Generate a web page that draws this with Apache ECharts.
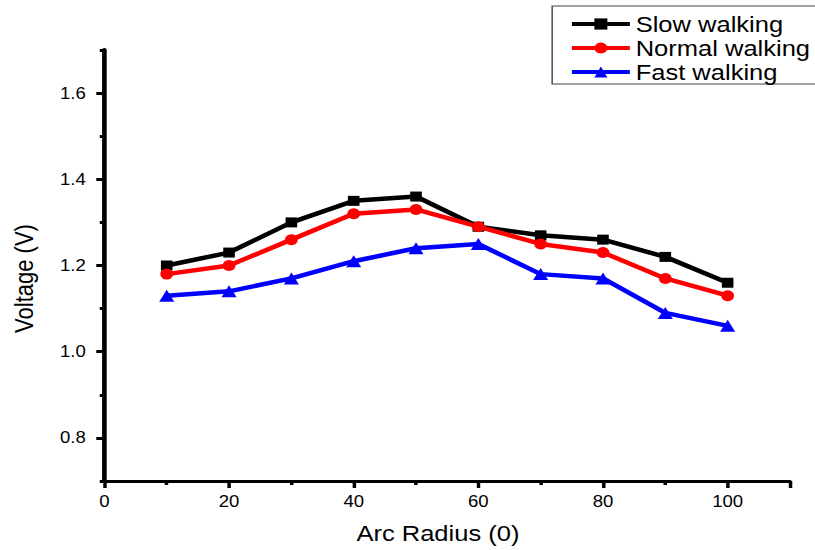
<!DOCTYPE html>
<html>
<head>
<meta charset="utf-8">
<script src="https://cdn.jsdelivr.net/npm/echarts@6/dist/echarts.min.js"></script>
<style>
  html, body { margin: 0; padding: 0; background: #fff; overflow: hidden; }
  /* the reference figure is stretched sideways, so the chart is drawn narrower and widened */
  #chart { width: 703px; height: 550px; transform: scaleX(1.16); transform-origin: 0 0; }
</style>
</head>
<body>
<div id="chart"></div>
<script>
var radius = [10, 20, 30, 40, 50, 60, 70, 80, 90, 100];
var slowWalking = [1.20, 1.23, 1.30, 1.35, 1.36, 1.29, 1.27, 1.26, 1.22, 1.16];
var normalWalking = [1.18, 1.20, 1.26, 1.32, 1.33, 1.29, 1.25, 1.23, 1.17, 1.13];
var fastWalking = [1.13, 1.14, 1.17, 1.21, 1.24, 1.25, 1.18, 1.17, 1.09, 1.06];
var yMajorTicks = [0.8, 1.0, 1.2, 1.4, 1.6];
var yMinorTicks = [0.7, 0.9, 1.1, 1.3, 1.5, 1.7];

function pairs(ys) {
    return radius.map(function (x, i) { return [x, ys[i]]; });
}

var chart = echarts.init(document.getElementById('chart'), null, { renderer: 'svg' });
var font = 'Liberation Sans, Arial, sans-serif';

var option = {
    backgroundColor: '#fff',
    animation: false,
    grid: { left: 90, right: 22, top: 50, bottom: 69 },
    legend: {
        left: 476,
        top: 6,
        orient: 'vertical',
        itemGap: 2,
        itemWidth: 50,
        itemHeight: 14,
        padding: [7, 6, 1, 15],
        borderColor: '#444',
        borderWidth: 1.2,
        borderRadius: 0,
        lineStyle: { width: 4 },
        textStyle: { fontFamily: font, fontSize: 22, lineHeight: 20, color: '#000' },
        data: ['Slow walking', 'Normal walking', 'Fast walking']
    },
    xAxis: {
        type: 'value',
        min: 0,
        max: 110,
        interval: 20,
        name: 'Arc Radius (0)',
        nameLocation: 'middle',
        nameGap: 41,
        nameTextStyle: { fontFamily: font, fontSize: 22, color: '#000', padding: [0, 16, 0, 0] },
        axisLine: { onZero: false, lineStyle: { color: '#000', width: 3 } },
        axisTick: { show: true, inside: false, length: 7, lineStyle: { width: 3, color: '#000' } },
        minorTick: { show: true, splitNumber: 2, length: 4, lineStyle: { width: 3, color: '#000' } },
        axisLabel: {
            fontFamily: font, fontSize: 16, color: '#000', margin: 12,
            formatter: function (v) { return v > 100 ? '' : v; }
        },
        splitLine: { show: false }
    },
    yAxis: [
        {
            type: 'value',
            min: 0.7,
            max: 1.7,
            interval: 0.1,
            name: 'Voltage (V)',
            nameLocation: 'middle',
            nameGap: 58,
            nameTextStyle: { fontFamily: font, fontSize: 22, color: '#000', padding: [0, 26, 0, 0] },
            axisLine: { show: true, lineStyle: { color: '#000', width: 4 } },
            axisTick: { show: true, inside: false, length: 7, customValues: yMajorTicks,
                lineStyle: { width: 3, color: '#000' } },
            axisLabel: {
                fontFamily: font, fontSize: 16, color: '#000', margin: 16,
                customValues: yMajorTicks,
                formatter: function (v) { return v.toFixed(1); }
            },
            splitLine: { show: false }
        },
        {
            type: 'value',
            position: 'left',
            min: 0.7,
            max: 1.7,
            interval: 0.1,
            axisLine: { show: false },
            axisTick: { show: true, inside: false, length: 4, customValues: yMinorTicks,
                lineStyle: { width: 3, color: '#000' } },
            axisLabel: { show: false },
            splitLine: { show: false }
        }
    ],
    series: [
        {
            name: 'Slow walking',
            type: 'line',
            data: pairs(slowWalking),
            symbol: 'rect',
            symbolSize: 10,
            color: '#000',
            lineStyle: { width: 4.5, color: '#000' },
            itemStyle: { color: '#000' }
        },
        {
            name: 'Normal walking',
            type: 'line',
            data: pairs(normalWalking),
            symbol: 'circle',
            symbolSize: 11,
            color: '#ff0000',
            lineStyle: { width: 4.5, color: '#ff0000' },
            itemStyle: { color: '#ff0000' }
        },
        {
            name: 'Fast walking',
            type: 'line',
            data: pairs(fastWalking),
            symbol: 'triangle',
            symbolSize: [13, 12],
            color: '#0000ff',
            lineStyle: { width: 4.5, color: '#0000ff' },
            itemStyle: { color: '#0000ff' }
        }
    ]
};

chart.setOption(option);
</script>
</body>
</html>
